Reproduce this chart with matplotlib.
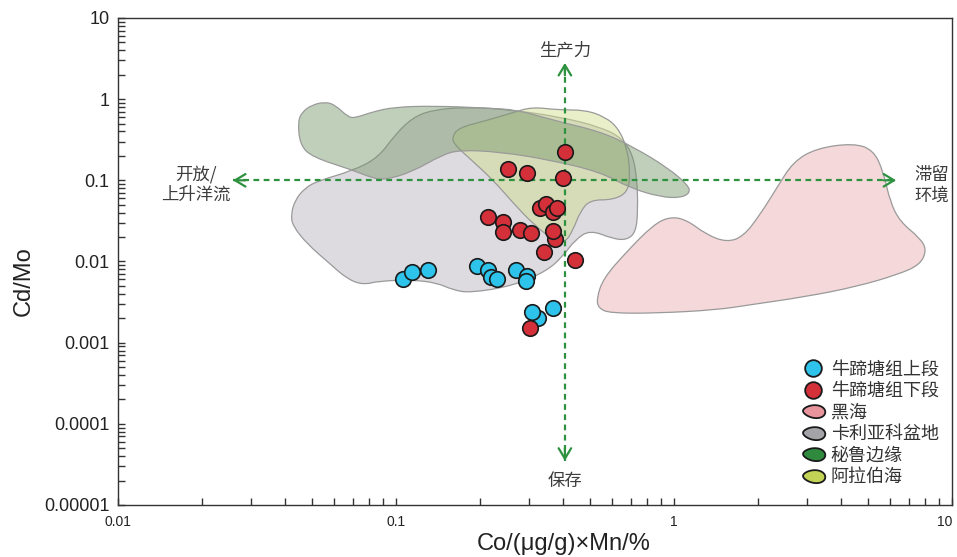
import numpy as np
import matplotlib
matplotlib.use('Agg')
import matplotlib.pyplot as plt
from matplotlib.path import Path
from matplotlib.patches import PathPatch
from matplotlib.lines import Line2D

plt.rcParams['font.family'] = ['Liberation Sans', 'Noto Sans CJK SC', 'DejaVu Sans']
CJK = ['Noto Sans CJK SC', 'DejaVu Sans']

# ---------------- data ----------------
upper_x = [0.106, 0.114, 0.130, 0.196, 0.215, 0.219, 0.230, 0.270, 0.297, 0.293, 0.323, 0.308, 0.368]
upper_y = [0.0061, 0.0074, 0.0079, 0.0089, 0.0079, 0.0065, 0.0061, 0.0079, 0.0067, 0.0057, 0.0020, 0.0024, 0.0027]

lower_x = [0.406, 0.252, 0.295, 0.400, 0.330, 0.346, 0.368, 0.380, 0.215, 0.243, 0.242, 0.279,
           0.306, 0.374, 0.368, 0.342, 0.441, 0.303]
lower_y = [0.222, 0.138, 0.122, 0.106, 0.0453, 0.0508, 0.0412, 0.0453, 0.0351, 0.0305, 0.0230, 0.0245,
           0.0227, 0.0190, 0.0238, 0.0132, 0.0105, 0.00151]

# region outlines, given as log10(x), log10(y)
black_sea_lx = [-0.278, -0.254, -0.170, -0.075, -0.014, 0.046, 0.118, 0.190, 0.249, 0.309, 0.369, 0.429,
                0.513, 0.645, 0.717, 0.753, 0.777, 0.813, 0.885, 0.909, 0.885, 0.801, 0.657, 0.477,
                0.273, 0.154, -0.062, -0.230, -0.272]
black_sea_ly = [-2.452, -2.206, -1.878, -1.549, -1.447, -1.488, -1.672, -1.762, -1.693, -1.426, -1.097, -0.770,
                -0.605, -0.543, -0.626, -0.893, -1.262, -1.509, -1.713, -1.857, -2.042, -2.165, -2.309, -2.432,
                -2.534, -2.596, -2.637, -2.637, -2.575]

cariaco_lx = [-1.378, -1.363, -1.327, -1.281, -1.158, -1.065, -1.004, -0.942, -0.871, -0.741, -0.583, -0.410,
              -0.266, -0.187, -0.148, -0.133, -0.130, -0.137, -0.169, -0.219, -0.302, -0.356, -0.399, -0.457,
              -0.579, -0.734, -0.795, -0.853, -0.939, -1.058, -1.119, -1.176, -1.237, -1.320, -1.371]
cariaco_ly = [-1.426, -1.241, -1.094, -1.007, -0.884, -0.724, -0.441, -0.232, -0.133, -0.096, -0.133, -0.219,
              -0.342, -0.478, -0.687, -0.995, -1.365, -1.635, -1.734, -1.722, -1.611, -1.734, -1.931, -2.116,
              -2.300, -2.387, -2.350, -2.264, -2.227, -2.239, -2.288, -2.214, -2.030, -1.783, -1.562]

peru_lx = [-1.353, -1.338, -1.302, -1.255, -1.219, -1.173, -1.147, -1.086, -1.004, -0.860, -0.680, -0.561,
           -0.439, -0.259, -0.140, -0.022, 0.050, 0.058, 0.022, -0.050, -0.158, -0.266, -0.446, -0.626,
           -0.770, -0.835, -0.942, -1.040, -1.086, -1.158, -1.302, -1.345]
peru_ly = [-0.281, -0.158, -0.071, -0.034, -0.071, -0.219, -0.232, -0.158, -0.096, -0.084, -0.108, -0.133,
           -0.256, -0.404, -0.601, -0.847, -1.057, -1.155, -1.217, -1.204, -1.094, -0.897, -0.749, -0.650,
           -0.626, -0.687, -0.897, -0.995, -0.970, -0.872, -0.712, -0.564]

arabian_lx = [-0.799, -0.777, -0.680, -0.583, -0.511, -0.417, -0.320, -0.248, -0.201, -0.169, -0.158, -0.165,
              -0.219, -0.302, -0.338, -0.363, -0.392, -0.435, -0.507, -0.579, -0.651, -0.745, -0.788]
arabian_ly = [-0.478, -0.355, -0.268, -0.170, -0.096, -0.133, -0.133, -0.219, -0.355, -0.601, -0.897, -1.143,
              -1.241, -1.241, -1.389, -1.611, -1.771, -1.734, -1.537, -1.278, -0.995, -0.700, -0.564]

series_labels = ['牛蹄塘组上段', '牛蹄塘组下段']
region_labels = ['黑海', '卡利亚科盆地', '秘鲁边缘', '阿拉伯海']

x_ticks = [0.01, 0.1, 1, 10]
x_ticklabels = ['0.01', '0.1', '1', '10']
y_ticks = [1e-5, 1e-4, 1e-3, 1e-2, 1e-1, 1, 10]
y_ticklabels = ['0.00001', '0.0001', '0.001', '0.01', '0.1', '1', '10']

# guide arrows
arrow_x = 0.405
arrow_y = 0.1
v_arrow = [3.5e-5, 2.8]
h_arrow = [0.0259, 6.3]
label_top = '生产力'
label_bottom = '保存'
label_left = '开放/\n上升洋流'
label_right = '滞留\n环境'

# ---------------- styles ----------------
c_blue = '#2dc3ea'
c_red = '#d3303a'
c_green_arrow = '#2e9140'
leg_colors = ['#e8949c', '#a3a3a8', '#2f8a3e', '#c3d356']


def smooth_path(lx, ly):
    P = np.column_stack([lx, ly])
    n = len(P)
    M = (P + np.roll(P, -1, axis=0)) / 2
    verts = [M[-1]]
    codes = [Path.MOVETO]
    for i in range(n):
        verts += [P[i], M[i]]
        codes += [Path.CURVE3, Path.CURVE3]
    verts.append(M[-1])
    codes.append(Path.CLOSEPOLY)
    return Path(10 ** np.array(verts), codes)


fig = plt.figure(figsize=(9.57, 5.57), dpi=100)
ax = fig.add_axes([0.1233, 0.0934, 0.8715, 0.8743])
ax.set_xscale('log')
ax.set_yscale('log')
ax.set_xlim(0.01, 10)
ax.set_ylim(1e-5, 10)

edge = '#9a9a9a'
ax.add_patch(PathPatch(smooth_path(black_sea_lx, black_sea_ly), facecolor='#f5d8d9',
                       edgecolor=edge, lw=0.9, zorder=1))
ax.add_patch(PathPatch(smooth_path(cariaco_lx, cariaco_ly), facecolor='#dddbdf',
                       edgecolor=edge, lw=0.9, zorder=1.1))
ax.add_patch(PathPatch(smooth_path(arabian_lx, arabian_ly), facecolor=(0.82, 0.87, 0.56, 0.48),
                       edgecolor=edge, lw=0.9, zorder=1.2))
ax.add_patch(PathPatch(smooth_path(peru_lx, peru_ly), facecolor=(0.45, 0.59, 0.40, 0.45),
                       edgecolor=edge, lw=0.9, zorder=1.3))

# dashed guide lines
dash = (0, (2.6, 2.0))
ax.plot([arrow_x, arrow_x], v_arrow, ls=dash, color=c_green_arrow, lw=1.6, zorder=2)
ax.plot(h_arrow, [arrow_y, arrow_y], ls=dash, color=c_green_arrow, lw=1.6, zorder=2)
aprops = dict(arrowstyle='->,head_length=0.75,head_width=0.45', color=c_green_arrow, lw=1.6,
              shrinkA=0, shrinkB=0)
ax.annotate('', xy=(arrow_x, v_arrow[1]), xytext=(0, -9), textcoords='offset points', arrowprops=aprops, zorder=2)
ax.annotate('', xy=(arrow_x, v_arrow[0]), xytext=(0, 9), textcoords='offset points', arrowprops=aprops, zorder=2)
ax.annotate('', xy=(h_arrow[0], arrow_y), xytext=(9, 0), textcoords='offset points', arrowprops=aprops, zorder=2)
ax.annotate('', xy=(h_arrow[1], arrow_y), xytext=(-9, 0), textcoords='offset points', arrowprops=aprops, zorder=2)

tcol = '#3c3c3c'
tfs = 12.5
ax.annotate(label_top, xy=(arrow_x, v_arrow[1]), xytext=(0, 8.5), textcoords='offset points',
            ha='center', va='center', fontsize=tfs, color=tcol, family=CJK)
ax.annotate(label_bottom, xy=(arrow_x, v_arrow[0]), xytext=(0, -14.5), textcoords='offset points',
            ha='center', va='center', fontsize=tfs, color=tcol, family=CJK)
ax.annotate(label_left, xy=(h_arrow[0], arrow_y), xytext=(-27, -3), textcoords='offset points',
            ha='center', va='center', fontsize=tfs, color=tcol, family=CJK, multialignment='center',
            linespacing=1.15)
ax.annotate(label_right, xy=(h_arrow[1], arrow_y), xytext=(13, -3.5), textcoords='offset points',
            ha='left', va='center', fontsize=tfs, color=tcol, family=CJK, linespacing=1.15)

# points
ax.scatter(upper_x, upper_y, s=125, c=c_blue, edgecolors='#1a1a1a', linewidths=1.2, zorder=3)
ax.scatter(lower_x, lower_y, s=125, c=c_red, edgecolors='#1a1a1a', linewidths=1.2, zorder=3)

# axes styling
ax.set_xticks(x_ticks)
ax.set_xticklabels(x_ticklabels)
ax.get_xticklabels()[-1].set_horizontalalignment('right')
ax.set_yticks(y_ticks)
ax.set_yticklabels(y_ticklabels)
ax.xaxis.set_minor_locator(matplotlib.ticker.LogLocator(base=10, subs=np.arange(2, 10), numticks=20))
ax.yaxis.set_minor_locator(matplotlib.ticker.LogLocator(base=10, subs=np.arange(2, 10), numticks=20))
ax.xaxis.set_minor_formatter(matplotlib.ticker.NullFormatter())
ax.yaxis.set_minor_formatter(matplotlib.ticker.NullFormatter())
ax.tick_params(axis='x', which='both', direction='in', length=5, width=1, color='#333333',
               labelsize=10, pad=7, labelcolor='#222222')
ax.tick_params(axis='y', which='both', direction='in', length=5, width=1, color='#333333',
               labelsize=13, pad=6, labelcolor='#222222')
for sp in ax.spines.values():
    sp.set_linewidth(1.0)
    sp.set_color('#333333')

ax.set_xlabel('Co/(μg/g)×Mn/%', fontsize=17, color='#222222')
ax.xaxis.set_label_coords(0.534, -0.058)
ax.set_ylabel('Cd/Mo', fontsize=17, color='#222222')
ax.yaxis.set_label_coords(-0.10, 0.46)

# legend
t = np.linspace(0, 2 * np.pi, 60)
blob = Path(np.column_stack([np.cos(t) + 0.06 * np.cos(2 * t), 0.56 * np.sin(t) + 0.08 * np.sin(2 * t) - 0.05 * np.cos(t)]))
handles = [
    Line2D([], [], ls='none', marker='o', markersize=12, markerfacecolor=c_blue, markeredgecolor='#1a1a1a', markeredgewidth=1.3),
    Line2D([], [], ls='none', marker='o', markersize=12, markerfacecolor=c_red, markeredgecolor='#1a1a1a', markeredgewidth=1.3),
]
for col in leg_colors:
    handles.append(Line2D([], [], ls='none', marker=blob, markersize=17, markerfacecolor=col,
                          markeredgecolor='#1a1a1a', markeredgewidth=1.3))
leg = ax.legend(handles, series_labels + region_labels, loc='upper left', bbox_to_anchor=(0.821, 0.297),
                frameon=False, borderpad=0, borderaxespad=0, handlelength=1.15, handletextpad=0.4,
                labelspacing=0.2, prop={'family': CJK, 'size': 13})
for txt in leg.get_texts():
    txt.set_color('#333333')

fig.savefig('out.png', dpi=100)
